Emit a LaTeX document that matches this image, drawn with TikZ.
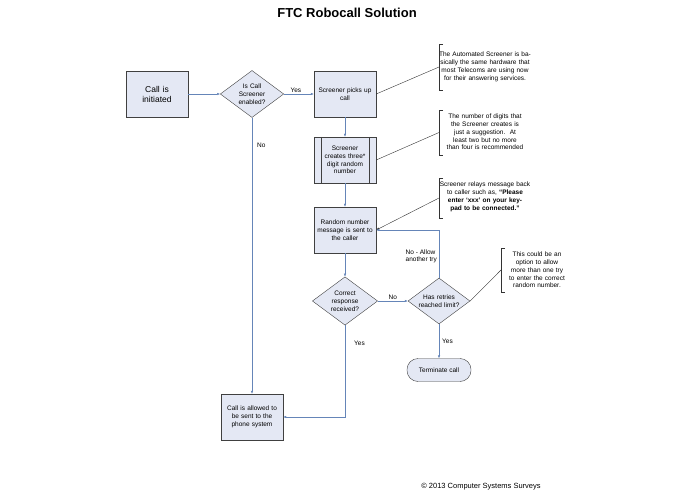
\documentclass[tikz,border=0pt]{standalone}
\usepackage{fontspec}
\setmainfont{Liberation Sans}
\usetikzlibrary{shapes.geometric,arrows.meta}
\definecolor{fillc}{HTML}{E4E8F4}
\definecolor{linec}{HTML}{6585B8}
\begin{document}
\begin{tikzpicture}[x=1pt,y=-1pt,
  every node/.style={font=\fontsize{6.5}{7.8}\selectfont,align=center,inner sep=1pt},
  box/.style={draw=black!75,fill=fillc,minimum width=62pt,minimum height=46pt,text width=58pt},
  dia/.style={diamond,aspect=1.35,draw=black!75,fill=fillc,minimum width=62pt,minimum height=46pt,inner sep=0pt},
  arr/.style={draw=linec,-{Latex[length=3pt,width=2.5pt]}},
  lead/.style={draw=black!80}]
\useasboundingbox (0,0) rectangle (695,494);
\node[font=\bfseries\fontsize{13}{15}\selectfont] (title) at (347,13) {FTC Robocall Solution};
\node[box,font=\fontsize{8.5}{10}\selectfont] (init) at (157,94) {Call is\\initiated};
\node[dia,text width=36pt] (d1) at (252,94) {Is Call\\Screener\\enabled?};
\node[box] (pick) at (345,94) {Screener picks up\\call};
\node[box,text width=50pt] (gen) at (345,160) {Screener\\creates three*\\digit random\\number};
\draw[black!75] ([xshift=7pt]gen.north west) -- ([xshift=7pt]gen.south west)
  ([xshift=-7pt]gen.north east) -- ([xshift=-7pt]gen.south east);
\node[box] (msg) at (345,230) {Random number\\message is sent to\\the caller};
\node[dia,text width=38pt] (d2) at (345,301) {Correct\\response\\received?};
\node[dia,text width=44pt] (d3) at (439,301) {Has retries\\reached limit?};
\node[draw=black!75,fill=fillc,rounded corners=11pt,minimum width=64pt,minimum height=23pt] (term) at (439,370) {Terminate call};
\node[box] (allow) at (252,417) {Call is allowed to\\be sent to the\\phone system};
% notes
\node[text width=92pt] (n1) at (485,67) {The Automated Screener is basically the same hardware that most Telecoms are using now for their answering services.};
\node[text width=92pt] (n2) at (485,132) {The number of digits that the Screener creates is just a suggestion.\ \ At least two but no more than four is recommended};
\node[text width=94pt] (n3) at (485,197) {Screener relays message back to caller such as, \textbf{``Please enter `xxx' on your keypad to be connected.''}};
\node[text width=68pt] (n4) at (537,270) {This could be an option to allow more than one try to enter the correct random number.};
\foreach \n/\x/\t/\b in {n1/439/44/90, n2/439/110/155, n3/439/178/218, n4/501/248/292}{
  \draw[black!80] (\x+4,\t) -- (\x,\t) -- (\x,\b) -- (\x+4,\b);
  \coordinate (\n b) at (\x,{(\t+\b)/2});
}
\draw[lead] (pick.east) -- (n1b);
\draw[lead] (gen.east) -- (n2b);
\draw[arr,draw=black!80] (n3b) -- (msg.east);
\draw[lead] (d3.east) -- (n4b);
% flow
\draw[arr] (init) -- (d1);
\draw[arr] (d1) -- node[above,pos=0.4] {Yes} (pick);
\draw[arr] (d1.south) -- node[right,pos=0.1,xshift=4pt] {No} (allow.north);
\draw[arr] (pick) -- (gen);
\draw[arr] (gen) -- (msg);
\draw[arr] (msg) -- (d2);
\draw[arr] (d2) -- node[above,pos=0.5] {No} (d3);
\draw[arr] (d3.north) -- node[left,pos=0.45,xshift=-1pt,align=left] {No - Allow\\another try} (439,230) -- (msg.east);
\draw[arr] (d3.south) -- node[right,pos=0.5,xshift=2pt] {Yes} (term.north);
\draw[arr] (d2.south) -- node[right,pos=0.2,xshift=8pt] {Yes} (345,417) -- (allow.east);
\node[font=\fontsize{7.5}{9}\selectfont] (copy) at (481,487) {\textcopyright\ 2013 Computer Systems Surveys};
\end{tikzpicture}
\end{document}
